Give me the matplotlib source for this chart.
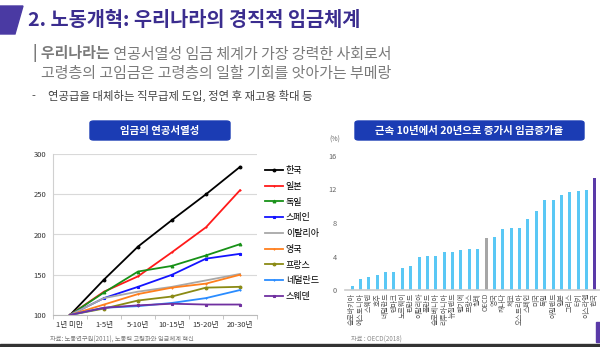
import matplotlib
matplotlib.use("Agg")
import matplotlib.pyplot as plt
from matplotlib.patches import Polygon, Rectangle, FancyBboxPatch
from matplotlib.text import Annotation

plt.rcParams['font.family'] = ['Noto Sans CJK KR', 'DejaVu Sans']

# --- left chart: wage seniority index by tenure ---
tenure = ["1년 미만", "1-5년", "5-10년", "10-15년", "15-20년", "20-30년"]
countries = ["한국", "일본", "독일", "스페인", "이탈리아", "영국", "프랑스", "네덜란드", "스웨덴"]
korea = [100, 144, 185, 218, 250, 284]
japan = [100, 129, 148, 178, 209, 255]
germany = [100, 128, 154, 161, 174, 188]
spain = [100, 121, 135, 150, 170, 176]
italy = [100, 121, 129, 135, 143, 151]
uk = [100, 113, 126, 134, 139, 150]
france = [100, 108, 118, 123, 134, 135]
netherlands = [100, 109, 111, 115, 121, 131]
sweden = [100, 109, 112, 114, 113, 113]
series = [korea, japan, germany, spain, italy, uk, france, netherlands, sweden]

# --- right chart: wage increase when tenure goes from 10 to 20 years ---
bar_labels = ["슬로바키아", "에스토니아", "스웨덴", "호주", "네덜란드", "덴마크", "노르웨이",
              "핀란드", "이탈리아", "폴란드", "슬로베니아", "리투아니아", "뉴질랜드", "벨기에",
              "프랑스", "칠레", "OECD", "영국", "캐나다", "체코", "오스트리아", "스페인", "미국",
              "독일", "아일랜드", "일본", "그리스", "터키", "이스라엘", "한국"]
bar_values = [0.45, 1.35, 1.55, 1.75, 2.15, 2.15, 2.65, 2.9, 4.0, 4.05, 4.05, 4.5, 4.5, 4.75,
              4.85, 4.95, 6.15, 6.3, 7.25, 7.35, 7.4, 8.5, 9.4, 10.7, 10.75, 11.3, 11.65, 11.85,
              11.95, 13.4]

W, H = 600, 347
fig = plt.figure(figsize=(6, 3.47), dpi=100)

def fx(px):
    return px / W

def fy(py):
    return 1 - py / H

# header
fig.patches.append(Polygon([(fx(0), fy(6)), (fx(23), fy(6)), (fx(15), fy(34)), (fx(0), fy(34))],
                           closed=True, color="#4a3aa3", transform=fig.transFigure))
fig.text(fx(28), fy(21), "2. 노동개혁: 우리나라의 경직적 임금체계", fontsize=14.2,
         fontweight="bold", color="#3b2d8f", va="center", ha="left")
t1 = fig.text(fx(33), fy(53), "| 우리나라는", fontsize=10.8, fontweight="bold",
              color="#7a7a7a", va="center", ha="left")
fig.add_artist(Annotation(" 연공서열성 임금 체계가 가장 강력한 사회로서", xy=(1, 0), xycoords=t1,
                          fontsize=10.8, color="#7a7a7a", va="bottom", ha="left",
                          fontweight="medium"))
fig.text(fx(41), fy(74), "고령층의 고임금은 고령층의 일할 기회를 앗아가는 부메랑", fontsize=10.8,
         color="#7a7a7a", va="center", ha="left", fontweight="medium")
fig.text(fx(31), fy(96), "-", fontsize=8, color="#444444", va="center", ha="left")
fig.text(fx(48), fy(96), "연공급을 대체하는 직무급제 도입, 정연 후 재고용 확대 등", fontsize=8.2,
         color="#444444", va="center", ha="left")

# title boxes
for x0, x1, label in [(90, 230, "임금의 연공서열성"),
                      (355, 584, "근속 10년에서 20년으로 증가시 임금증가율")]:
    fig.patches.append(FancyBboxPatch((fx(x0), fy(140)), fx(x1 - x0), (140 - 121) / H,
                                      boxstyle="round,pad=0,rounding_size=0.006",
                                      color="#1b3cb4", transform=fig.transFigure))
    fig.text(fx((x0 + x1) / 2), fy(130.5), label, fontsize=7.5, fontweight="bold",
             color="white", ha="center", va="center")

# left line chart
ax1 = fig.add_axes([fx(53), fy(315), fx(257 - 53), (315 - 154) / H])
colors = ["#000000", "#ff1a1a", "#179117", "#1414ff", "#a8a8a8", "#ff7f1e", "#8a8a14",
          "#2a8cff", "#7030a0"]
markers = ["o", "+", "^", "s", None, "+", "o", "+", "s"]
x = range(len(tenure))
for vals, name, c, m in zip(series, countries, colors, markers):
    ax1.plot(x, vals, color=c, lw=1.3, marker=m, ms=2, mew=0.8, label=name)
ax1.set_xlim(-0.5, 5.5)
ax1.set_ylim(100, 300)
ax1.set_yticks([100, 150, 200, 250, 300])
ax1.set_xticks(list(x))
ax1.set_xticklabels(tenure)
ax1.set_xticks([i - 0.5 for i in range(7)], minor=True)
ax1.tick_params(axis="x", which="major", length=0, labelsize=5.5, pad=4, labelcolor="#333333")
ax1.tick_params(axis="x", which="minor", length=3, color="#bbbbbb")
ax1.tick_params(axis="y", length=0, labelsize=5.5, pad=5, labelcolor="#333333")
ax1.yaxis.grid(True, color="#d9d9d9", lw=0.8)
ax1.set_axisbelow(True)
for s in ["top", "right"]:
    ax1.spines[s].set_visible(False)
ax1.spines["left"].set_color("#d0d0d0")
ax1.spines["bottom"].set_color("#bbbbbb")
ax1.legend(loc="upper left", bbox_to_anchor=(fx(265), fy(166)), bbox_transform=fig.transFigure,
           frameon=False, fontsize=6.5, handlelength=2.0, handletextpad=0.3,
           labelspacing=0.75, borderpad=0, borderaxespad=0)
fig.text(fx(50), fy(340), "자료: 노동연구원(2011), 노동력 고령화와 임금체계 혁신", fontsize=4.5,
         color="#777777", ha="left", va="center")

# right bar chart
ax2 = fig.add_axes([fx(345), fy(290), fx(255), (290 - 156) / H])
bar_colors = ["#5ac8f5"] * len(bar_values)
bar_colors[bar_labels.index("OECD")] = "#a6a6a6"
bar_colors[bar_labels.index("한국")] = "#5a3aa8"
ax2.bar(range(len(bar_values)), bar_values, width=0.36, color=bar_colors)
ax2.set_xlim(-0.84, 29.6)
ax2.set_ylim(0, 16)
ax2.set_yticks([0, 4, 8, 12, 16])
ax2.set_xticks(range(len(bar_labels)))
ax2.set_xticklabels(bar_labels, rotation=90)
ax2.tick_params(axis="x", length=0, labelsize=5, pad=2, labelcolor="#555555")
ax2.tick_params(axis="y", length=0, labelsize=5.3, pad=6, labelcolor="#666666")
for s in ["top", "right", "left"]:
    ax2.spines[s].set_visible(False)
ax2.spines["bottom"].set_color("#cccccc")
ax2.spines["bottom"].set_linewidth(1.2)
fig.text(fx(335), fy(140), "(%)", fontsize=5, color="#666666", ha="center", va="center")
fig.text(fx(351), fy(340), "자료 : OECD(2018)", fontsize=4.5, color="#888888", ha="left",
         va="center")

# bottom frame bits
fig.patches.append(Rectangle((fx(596), fy(342)), fx(4), 20 / H, color="#5a3aa8",
                             transform=fig.transFigure))
fig.patches.append(Rectangle((0, 0), 1, 3 / H, color="#333333", transform=fig.transFigure))

fig.savefig("out.png", dpi=100)
